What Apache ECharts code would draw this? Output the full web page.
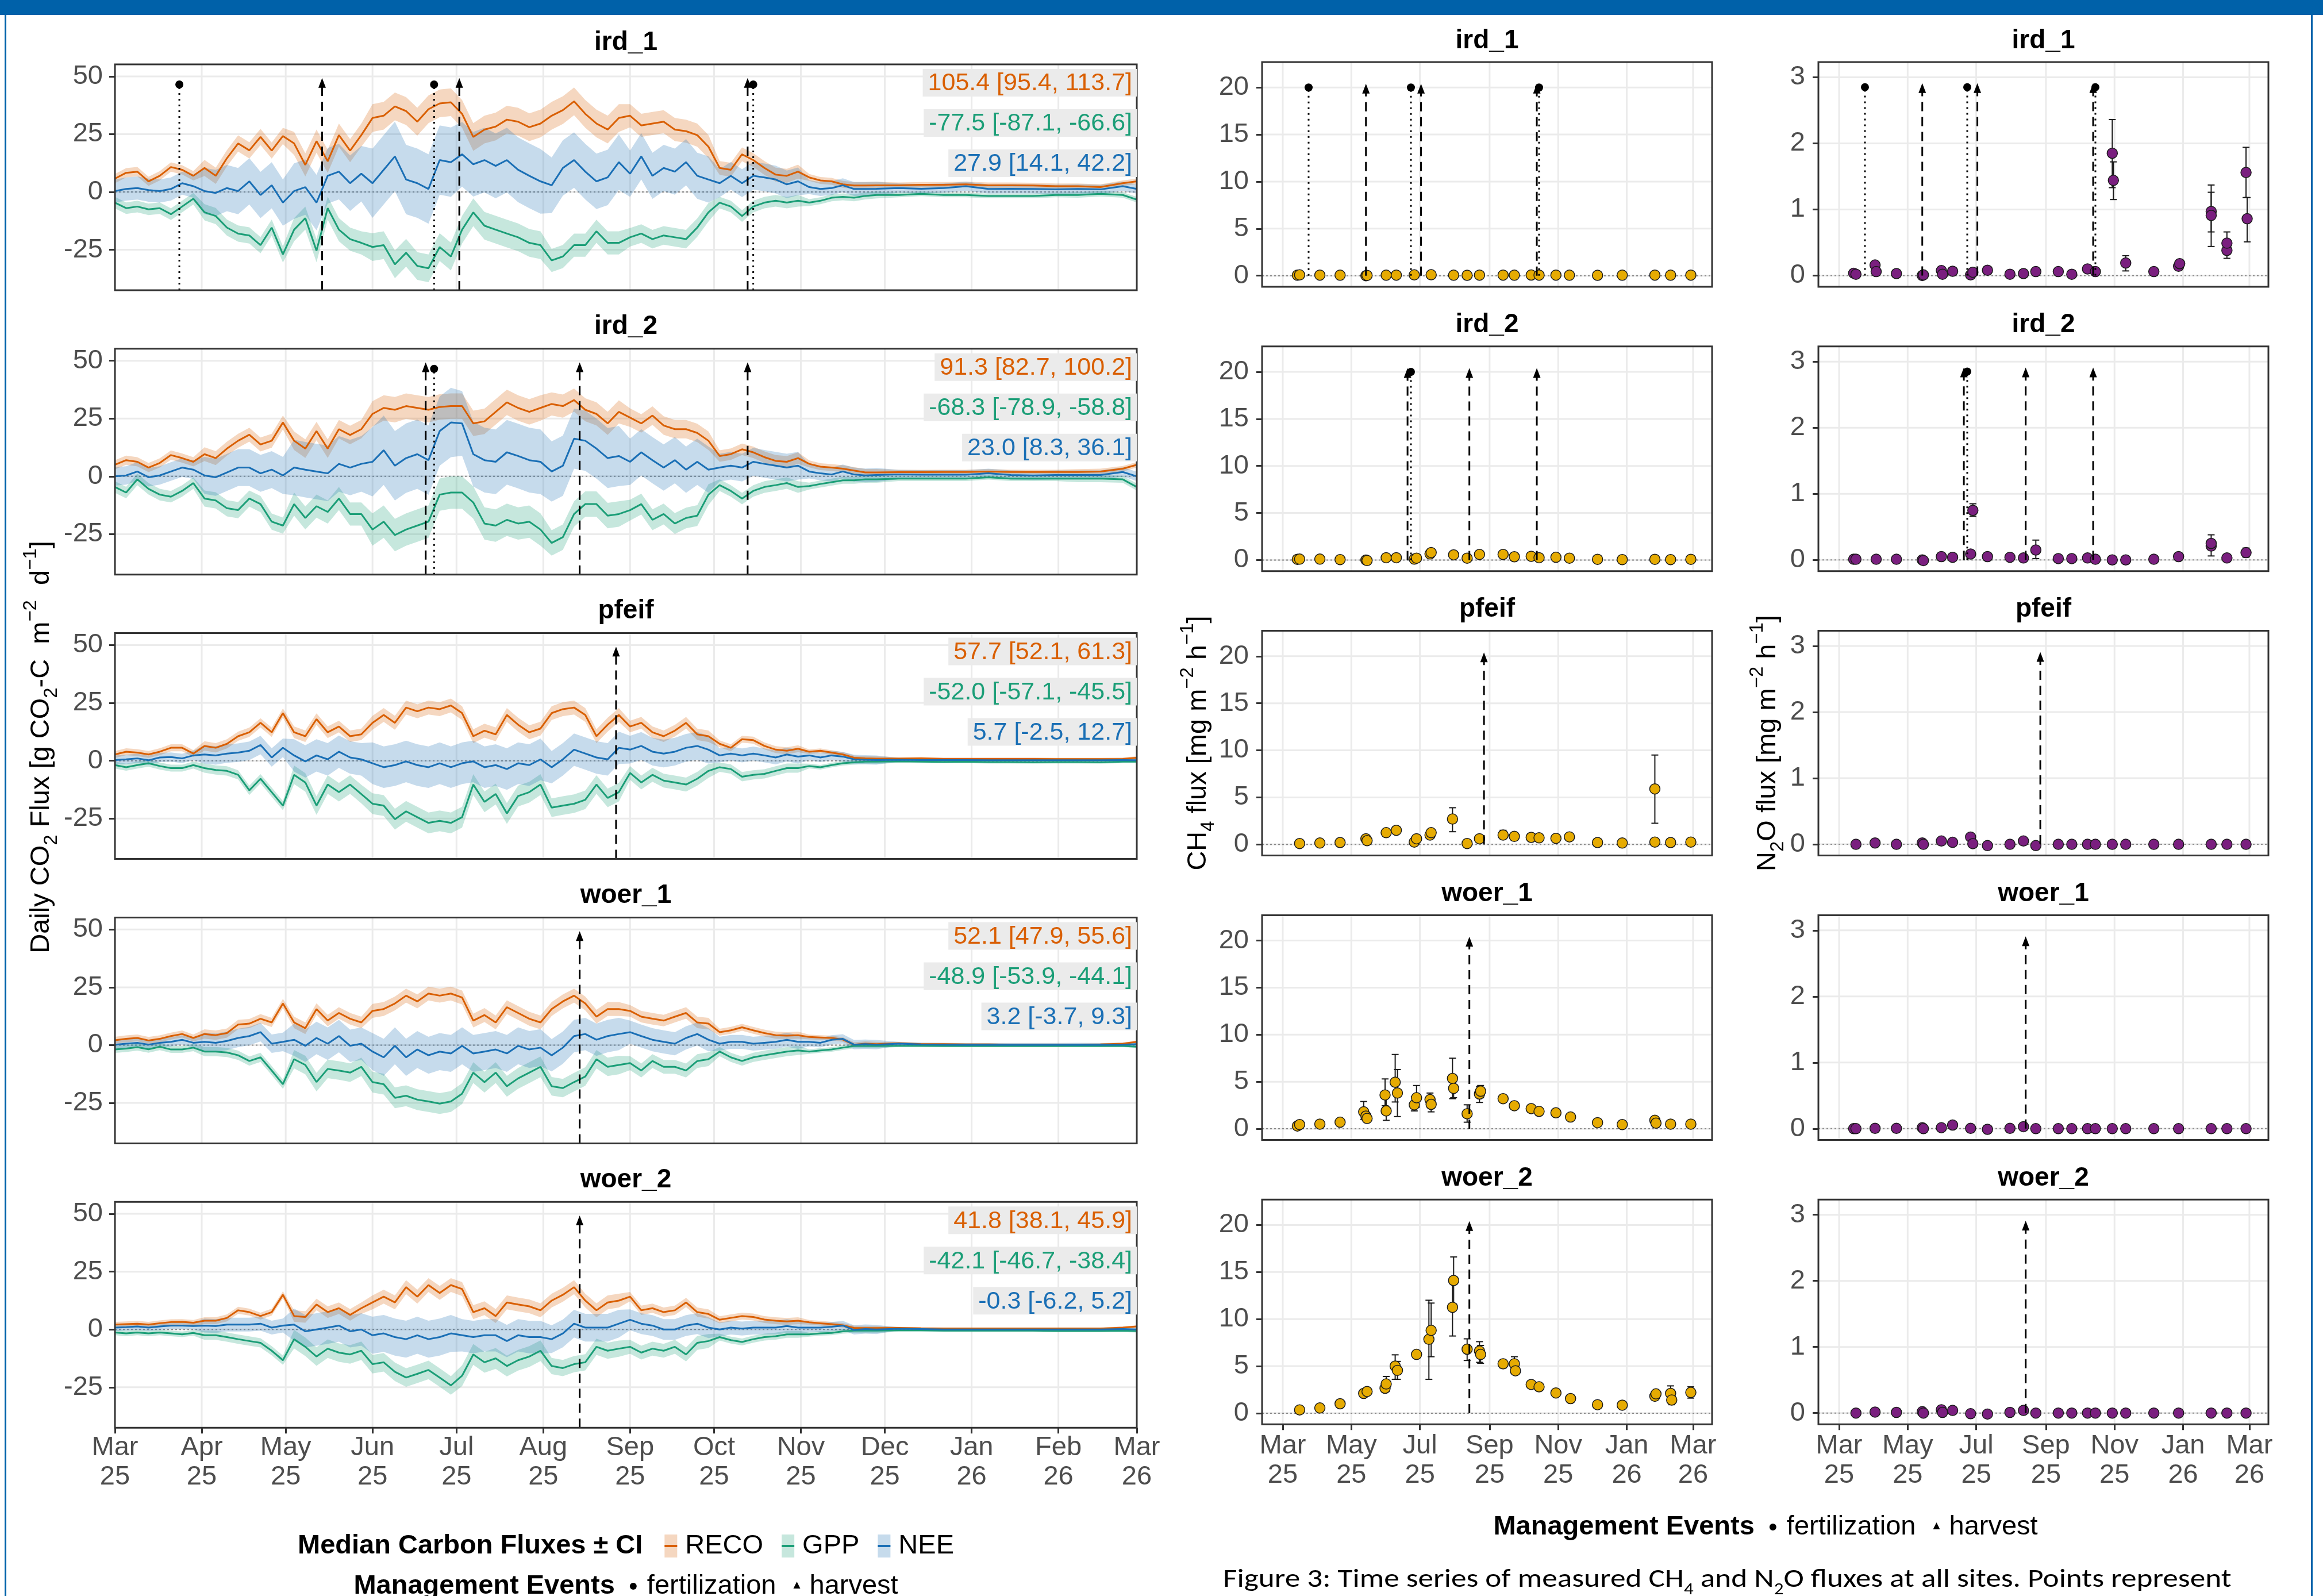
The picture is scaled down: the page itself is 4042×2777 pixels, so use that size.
<!DOCTYPE html>
<html><head><meta charset="utf-8">
<script src="https://cdn.jsdelivr.net/npm/echarts@6/dist/echarts.min.js"></script>
<style>html,body{margin:0;padding:0;background:#fff;}#c{width:4042px;height:2777px;}</style>
</head><body><div id="c"></div>
<script>
// ---------------- DATA ----------------
const siteNames = ['ird_1','ird_2','pfeif','woer_1','woer_2'];
const co2Dates = ['2025-03-01','2025-03-05','2025-03-09','2025-03-13','2025-03-17','2025-03-21','2025-03-25','2025-03-29','2025-04-02','2025-04-06','2025-04-10','2025-04-14','2025-04-18','2025-04-22','2025-04-26','2025-04-30','2025-05-04','2025-05-08','2025-05-12','2025-05-16','2025-05-20','2025-05-24','2025-05-28','2025-06-01','2025-06-05','2025-06-09','2025-06-13','2025-06-17','2025-06-21','2025-06-25','2025-06-29','2025-07-03','2025-07-07','2025-07-11','2025-07-15','2025-07-19','2025-07-23','2025-07-27','2025-07-31','2025-08-04','2025-08-08','2025-08-12','2025-08-16','2025-08-20','2025-08-24','2025-08-28','2025-09-01','2025-09-05','2025-09-09','2025-09-13','2025-09-17','2025-09-21','2025-09-25','2025-09-29','2025-10-03','2025-10-07','2025-10-11','2025-10-15','2025-10-19','2025-10-23','2025-10-27','2025-10-31','2025-11-04','2025-11-08','2025-11-12','2025-11-16','2025-11-20','2025-11-24','2025-11-28','2025-12-06','2025-12-14','2025-12-22','2025-12-30','2026-01-07','2026-01-15','2026-01-23','2026-01-31','2026-02-08','2026-02-16','2026-02-24','2026-03-01'];

const ird_1_reco = [5.8,8.3,8.8,4.6,7.0,10.8,9.6,7.0,10.4,7.0, 14.6,21.0,18.0,23.8,17.9,24.2,21.0,11.7,22.0,13.3, 24.6,17.9,24.6,32.0,33.0,37.0,35.0,30.4,35.8,38.3, 38.8,33.8,23.8,27.0,28.3,31.3,30.4,28.0,29.6,33.0, 35.4,39.2,33.8,29.6,27.0,32.0,33.0,28.8,29.6,30.4, 27.0,26.3,24.6,19.6,10.4,9.6,16.3,13.8,10.4,7.5, 7.0,8.8,6.3,5.0,4.6,3.3,2.8,2.8,2.9, 2.9,3.1,3.1,3.3,2.9,2.9,2.8,2.5,2.5,2.1,3.8,4.6];
const ird_1_gpp = [-4.6,-7.0,-6.3,-7.5,-7.0,-9.6,-6.3,-2.9,-8.8,-10.4, -15.4,-18.0,-18.8,-23.0,-15.4,-27.0,-16.3,-11.3,-25.4,-7.0, -16.3,-20.4,-22.0,-23.8,-23.0,-31.3,-26.3,-32.0,-33.0,-23.8, -27.9,-16.3,-8.8,-14.6,-16.3,-18.0,-19.6,-22.0,-23.0,-29.6, -27.9,-23.0,-23.0,-17.0,-22.0,-22.0,-19.6,-18.0,-20.4,-18.8, -19.6,-20.4,-15.4,-8.8,-4.6,-6.3,-10.4,-6.3,-4.6,-3.8, -4.6,-3.8,-4.6,-3.8,-2.5,-2.1,-2.5,-1.7,-1.3, -1.3,-0.8,-1.3,-1.3,-1.7,-1.7,-1.7,-1.3,-1.3,-0.8,-1.3,-3.3];
const ird_1_nee = [0.4,1.3,1.7,0.8,0.4,1.3,3.8,2.5,0.4,-0.4, 1.7,0.4,4.6,-1.3,2.9,-4.6,0.4,2.1,-4.6,7.0, 8.8,3.8,7.9,3.8,9.6,15.4,5.4,3.8,1.3,13.8, 12.9,16.3,12.0,13.8,11.3,13.8,9.6,7.0,4.6,2.9, 10.4,13.8,8.8,4.6,6.3,12.9,7.9,15.4,7.0,10.4, 8.8,12.9,7.0,5.4,3.8,7.0,3.8,7.0,6.3,5.4, 3.3,4.6,2.1,1.3,1.7,2.9,1.3,1.3,1.4, 1.7,1.4,1.7,2.5,1.3,1.4,1.3,1.1,1.3,1.1,2.5,1.3];

const ird_2_reco = [5.0,7.0,6.3,3.8,5.8,9.2,7.9,6.3,9.6,7.9, 12.0,15.4,18.0,13.8,15.4,23.3,15.4,12.0,19.6,12.0, 20.4,17.9,20.4,27.0,29.6,28.8,30.4,29.6,28.8,30.0, 30.4,30.4,22.9,23.8,27.9,32.0,29.6,27.9,29.6,31.3, 30.4,33.0,28.8,27.0,22.9,27.9,25.4,22.9,26.3,22.0, 20.4,20.4,18.8,15.4,8.8,9.6,11.7,10.4,8.3,6.7, 6.3,7.9,5.4,4.2,3.8,3.3,2.5,1.7,1.7, 1.8,1.8,1.9,1.9,2.1,1.9,1.9,1.9,1.9,2.1,3.3,5.0];
const ird_2_gpp = [-4.6,-7.0,-1.3,-5.4,-7.9,-8.8,-6.3,-2.9,-9.6,-10.4, -13.8,-14.6,-9.6,-12.0,-19.6,-21.3,-12.0,-18.0,-12.9,-15.4, -9.6,-16.3,-16.3,-23.0,-19.6,-25.4,-23.0,-21.3,-19.6,-7.9, -7.0,-7.0,-11.3,-20.4,-21.3,-18.8,-20.4,-19.6,-23.0,-28.8, -26.3,-16.3,-12.0,-12.0,-17.0,-16.3,-14.6,-12.0,-18.8,-16.3, -20.4,-18.0,-17.0,-7.9,-3.8,-6.3,-9.6,-6.3,-4.6,-3.8, -2.9,-4.6,-4.2,-3.3,-2.5,-1.7,-1.7,-1.3,-1.3, -1.0,-1.0,-1.0,-1.0,-0.4,-1.0,-1.0,-1.0,-1.0,-1.0,-1.3,-4.6];
const ird_2_nee = [0.0,0.4,2.1,-0.4,0.4,2.1,3.8,2.9,0.4,-0.4, 1.7,3.8,3.8,1.3,2.9,0.4,3.8,2.9,2.1,1.3, 5.4,3.8,5.4,6.3,11.3,4.6,7.9,9.6,7.0,19.6, 23.3,22.9,9.6,7.0,6.3,10.4,8.8,7.0,6.3,2.1, 4.6,16.3,15.4,12.0,7.9,8.8,6.3,10.4,7.0,3.8, 7.0,2.9,6.3,2.9,3.8,4.6,3.8,6.3,5.4,4.6, 3.8,4.6,2.1,1.3,0.8,2.1,0.8,0.4,0.6, 0.8,0.7,0.7,0.7,1.3,0.6,0.4,0.6,0.6,0.6,1.9,0.0];

const pfeif_reco = [2.7,3.9,3.5,2.7,3.9,5.6,5.6,3.1,6.4,5.6, 7.3,10.6,12.3,16.4,12.3,20.6,12.3,10.6,18.0,12.3, 14.8,10.6,11.4,16.4,19.8,16.4,23.0,21.4,23.0,22.3, 23.9,20.6,10.6,13.0,11.4,19.8,15.6,12.3,13.9,20.6, 22.3,23.0,19.8,10.6,15.6,19.8,14.8,16.4,12.3,10.6, 13.0,16.4,11.4,10.6,7.3,5.6,9.3,8.9,6.4,4.8, 4.3,5.2,3.9,4.3,3.5,2.7,1.3,1.0,0.9, 0.9,1.0,0.8,0.8,0.8,0.8,0.8,0.7,0.7,0.7,0.8,1.3];
const pfeif_gpp = [-1.9,-2.8,-1.9,-1.1,-2.3,-3.2,-3.2,-1.9,-3.2,-4.0, -4.4,-6.1,-12.8,-7.8,-13.6,-19.4,-6.1,-9.4,-19.4,-10.3, -13.6,-10.3,-14.4,-18.6,-19.4,-25.3,-21.9,-24.4,-26.9,-26.0, -26.9,-24.4,-10.3,-17.8,-14.4,-22.8,-15.3,-13.6,-10.3,-20.3, -19.4,-18.6,-16.9,-10.3,-16.1,-13.6,-5.3,-9.4,-6.1,-8.6, -9.4,-10.3,-7.8,-4.4,-2.8,-3.6,-6.9,-6.1,-5.7,-4.4, -3.2,-3.2,-2.3,-2.8,-1.9,-1.1,-0.7,-0.4,-0.4, -0.3,-0.4,-0.5,-0.4,-0.6,-0.6,-0.7,-0.6,-0.6,-0.7,-0.4,-0.4];
const pfeif_nee = [0.3,0.6,1.0,0.2,1.4,1.6,1.0,2.3,2.7,2.3, 3.1,3.5,4.3,6.8,1.4,5.6,2.3,-0.3,2.3,0.6, 3.9,1.4,0.6,-1.1,-2.8,-1.9,-0.3,-1.9,-2.8,-1.1, -2.8,-1.1,-0.3,-2.8,-1.9,-3.6,-1.1,-1.9,0.6,-2.8, 0.6,4.8,3.1,1.4,0.6,5.6,4.8,6.4,3.9,3.1, 3.9,5.6,6.4,4.8,2.3,3.1,2.3,3.1,2.3,1.4, 2.7,1.8,2.3,1.4,2.3,1.8,0.6,0.4,0.3, 0.4,0.3,0.3,0.3,0.2,0.2,0.2,0.2,0.2,0.2,0.3,0.2];

const woer_1_reco = [2.1,2.7,3.1,2.0,2.7,3.9,4.8,3.1,4.8,4.3, 5.2,8.9,9.3,11.4,9.8,18.0,9.8,7.3,15.6,10.6, 13.9,11.4,9.8,14.8,15.6,18.0,21.4,18.9,22.3,21.4, 22.3,20.6,10.6,13.0,9.8,16.4,13.9,11.4,9.8,15.6, 18.9,21.4,18.0,12.3,15.6,15.6,14.8,12.3,11.4,10.6, 12.3,13.9,9.8,9.3,5.6,6.4,7.7,6.4,5.2,4.3, 4.1,4.3,3.5,3.3,3.1,2.4,0.2,0.6,0.4, 0.8,0.4,0.4,0.3,0.3,0.2,0.2,0.2,0.2,0.3,0.6,1.4];
const woer_1_gpp = [-1.9,-1.5,-0.9,-1.8,-0.7,-1.9,-1.9,-1.1,-2.8,-2.8, -3.2,-4.4,-6.9,-5.3,-11.0,-16.9,-6.1,-8.6,-16.0,-10.3, -11.0,-11.9,-9.4,-16.0,-16.9,-22.8,-21.9,-23.6,-24.4,-25.3, -24.4,-21.0,-11.9,-16.0,-11.9,-17.8,-14.4,-11.9,-9.4,-17.8, -18.6,-16.0,-13.6,-6.1,-9.4,-8.6,-7.8,-11.0,-6.9,-9.4, -9.4,-11.0,-6.9,-6.1,-2.8,-5.3,-6.9,-5.3,-4.4,-3.6, -2.8,-2.3,-2.8,-2.3,-1.9,-1.1,-0.4,-0.4,-0.4, -0.3,-0.3,-0.4,-0.4,-0.4,-0.4,-0.4,-0.4,-0.4,-0.4,-0.4,-0.7];
const woer_1_nee = [0.2,0.6,1.0,0.2,1.0,1.4,2.3,1.0,1.4,1.0, 1.8,3.1,3.9,5.6,0.6,1.4,2.3,-0.3,3.1,0.6, 3.9,-0.3,0.6,-2.8,-5.3,-0.3,-5.3,-1.9,-4.4,-2.8, -3.6,-0.3,-3.6,-2.8,-1.9,-3.6,-0.3,-1.9,-1.1,-4.4, -1.1,3.9,4.8,2.3,3.9,4.8,5.6,3.9,2.3,1.4, 0.6,3.1,4.8,2.3,0.6,1.4,1.4,0.6,1.0,1.4, 2.3,1.4,1.4,1.0,2.3,2.7,0.2,0.4,0.2, 0.6,0.3,0.2,0.1,0.1,0.1,0.1,0.1,0.2,0.1,0.2,0.4];

const woer_2_reco = [2.1,2.3,2.5,2.1,2.7,3.2,3.3,2.9,3.8,3.8, 5.0,8.3,7.5,5.8,7.5,15.0,5.8,5.4,10.8,7.5, 9.2,6.3,9.2,11.7,14.2,11.7,18.3,14.2,19.2,15.8, 19.2,17.5,7.5,9.2,5.8,11.7,10.8,10.0,8.3,12.5, 15.0,18.3,12.5,8.3,11.7,12.5,14.2,8.3,9.2,7.5, 8.3,11.7,7.5,6.7,4.2,5.0,5.8,5.4,4.3,3.8, 3.5,3.8,3.1,2.7,2.3,1.8,0.7,0.6,0.6, 0.7,0.5,0.4,0.4,0.4,0.4,0.4,0.4,0.4,0.4,0.8,1.3];
const woer_2_gpp = [-1.3,-1.7,-1.3,-1.7,-1.3,-1.7,-2.1,-1.5,-2.5,-2.5, -3.3,-4.2,-5.0,-5.8,-9.2,-13.3,-4.2,-7.5,-11.7,-8.3, -10.0,-10.8,-9.2,-15.0,-14.2,-18.3,-20.8,-19.2,-17.5,-20.8, -24.2,-20.0,-10.8,-14.2,-12.5,-15.8,-13.3,-11.7,-9.2,-15.8, -16.7,-15.0,-14.2,-7.5,-9.2,-8.3,-7.5,-10.0,-8.3,-9.2, -7.5,-10.8,-5.8,-5.0,-3.3,-4.6,-5.4,-4.2,-3.3,-2.9, -2.1,-2.1,-2.1,-1.7,-1.5,-0.8,-0.5,-0.5,-0.5, -0.4,-0.4,-0.5,-0.5,-0.5,-0.5,-0.5,-0.6,-0.6,-0.6,-0.5,-0.7];
const woer_2_nee = [0.8,1.0,1.3,0.8,1.3,1.7,1.7,1.5,1.7,1.5, 2.1,2.1,2.1,2.5,0.8,1.7,2.1,-0.8,0.0,0.8, 1.7,-0.8,0.0,-2.5,-1.7,-3.3,-4.2,-2.5,-4.2,-3.3, -1.7,-2.5,-3.3,-2.5,-2.5,-5.0,-2.5,-3.3,-3.3,-4.2, -1.7,2.5,0.8,0.8,0.8,2.5,4.2,2.5,1.7,0.0, 0.0,1.7,2.5,0.8,0.0,0.8,0.4,0.8,0.8,0.8, 1.5,0.8,0.8,0.8,1.2,1.7,-0.2,0.2,0.0, 0.3,0.2,0.0,0.0,0.0,0.0,0.0,0.0,0.0,0.0,0.2,0.0];

// CI half-widths by month (Mar .. Feb)
const ird_1_reco_ci = [2,3.5,5,6,6,6,5,3,1.5,1.2,1.2,1.2];
const ird_1_gpp_ci  = [2.5,3.5,5,6,6,5,4,2.5,1.5,1,1,1.2];
const ird_1_nee_ci  = [5,10,12,15,14,12,10,6,3,2,2,2];
const ird_2_reco_ci = [2,3,4,5.5,5.5,5,4,2.5,1.5,1,1,1.2];
const ird_2_gpp_ci  = [2.5,3.5,5,7,7,5.5,4.5,2.5,1.5,1,1,1.5];
const ird_2_nee_ci  = [4,8,12,15,14,13,10,6,3,2,2,2];
const pfeif_reco_ci = [1.5,2,2.5,3,3,3,2.5,1.5,1,0.6,0.6,0.6];
const pfeif_gpp_ci  = [1.5,2,4,4.5,4.5,4,3,2,1,0.6,0.6,0.6];
const pfeif_nee_ci  = [2,4,7,9,9,7,6,3,2,0.8,0.8,0.8];
const woer_1_reco_ci = [1.5,2,2.5,3,3,3,2.5,1.5,1,0.5,0.5,0.5];
const woer_1_gpp_ci  = [1.5,2,4,4.5,4.5,4,3,2,1,0.5,0.5,0.5];
const woer_1_nee_ci  = [2,4,7,8,8,7,5,3,2,0.8,0.8,0.8];
const woer_2_reco_ci = [1.2,1.5,2.5,3,3,3,2,1.5,1,0.5,0.5,0.5];
const woer_2_gpp_ci  = [1.2,2,4,4,4.5,3.5,3,1.5,1,0.6,0.6,0.6];
const woer_2_nee_ci  = [1.5,3,7,8,7,6,4.5,3,2,0.6,0.6,0.6];

// annual sums [median, lower, upper] for RECO, GPP, NEE
const sums_ird_1 = [[105.4,95.4,113.7],[-77.5,-87.1,-66.6],[27.9,14.1,42.2]];
const sums_ird_2 = [[91.3,82.7,100.2],[-68.3,-78.9,-58.8],[23.0,8.3,36.1]];
const sums_pfeif = [[57.7,52.1,61.3],[-52.0,-57.1,-45.5],[5.7,-2.5,12.7]];
const sums_woer_1 = [[52.1,47.9,55.6],[-48.9,-53.9,-44.1],[3.2,-3.7,9.3]];
const sums_woer_2 = [[41.8,38.1,45.9],[-42.1,-46.7,-38.4],[-0.3,-6.2,5.2]];

// management events
const events_ird_1 = [['2025-03-24','fertilization'],['2025-05-14','harvest'],['2025-06-23','fertilization'],['2025-07-02','harvest'],['2025-10-13','harvest'],['2025-10-15','fertilization']];
const events_ird_2 = [['2025-06-20','harvest'],['2025-06-23','fertilization'],['2025-08-14','harvest'],['2025-10-13','harvest']];
const events_pfeif = [['2025-08-27','harvest']];
const events_woer_1 = [['2025-08-14','harvest']];
const events_woer_2 = [['2025-08-14','harvest']];

// CH4 / N2O chamber fluxes: [date, value, lower, upper]
const ch4_ird_1 = [['2025-03-14',0.05],['2025-03-16',0.08],['2025-04-03',0.06],['2025-04-21',0.05],['2025-05-14',0.0],['2025-05-15',0.03],['2025-06-01',0.05],['2025-06-10',0.06],['2025-06-26',0.08],['2025-07-11',0.1],['2025-07-31',0.05],['2025-08-12',0.04],['2025-08-23',0.06],['2025-09-13',0.06],['2025-09-23',0.05],['2025-10-08',0.07],['2025-10-15',0.06],['2025-10-30',0.06],['2025-11-11',0.05],['2025-12-06',0.04],['2025-12-28',0.05],['2026-01-26',0.06],['2026-02-09',0.05],['2026-02-27',0.06]];
const n2o_ird_1 = [['2025-03-14',0.035],['2025-03-16',0.02],['2025-04-02',0.16],['2025-04-03',0.06],['2025-04-21',0.03],['2025-05-14',0.0],['2025-05-15',0.01],['2025-05-31',0.075],['2025-06-01',0.02],['2025-06-10',0.065],['2025-06-26',0.01],['2025-06-28',0.05],['2025-07-11',0.08],['2025-07-31',0.02],['2025-08-12',0.03],['2025-08-23',0.06],['2025-09-12',0.06],['2025-09-24',0.02],['2025-10-08',0.1,0.06,0.14],['2025-10-15',0.06],['2025-10-30',1.85,1.33,2.36],['2025-10-31',1.44,1.15,1.72],['2025-11-11',0.19,0.07,0.3],['2025-12-06',0.06],['2025-12-28',0.14],['2025-12-29',0.18],['2026-01-26',0.97,0.66,1.37],['2026-01-26',0.91,0.44,1.26],['2026-02-09',0.38,0.26,0.49],['2026-02-09',0.49,0.38,0.66],['2026-02-26',1.56,1.18,1.94],['2026-02-27',0.86,0.51,1.18]];
const ch4_ird_2 = [['2025-03-14',0.08],['2025-03-16',0.1],['2025-04-03',0.1],['2025-04-21',0.05],['2025-05-14',0.0],['2025-05-15',-0.05],['2025-06-01',0.25],['2025-06-10',0.25],['2025-06-26',0.1],['2025-06-28',0.2],['2025-07-10',0.65],['2025-07-11',0.8],['2025-07-31',0.55],['2025-08-12',0.2],['2025-08-23',0.6],['2025-09-13',0.6],['2025-09-23',0.35],['2025-10-08',0.4],['2025-10-15',0.25],['2025-10-30',0.3],['2025-11-11',0.2],['2025-12-06',0.08],['2025-12-28',0.05],['2026-01-26',0.08],['2026-02-09',0.05],['2026-02-27',0.08]];
const n2o_ird_2 = [['2025-03-14',0.01],['2025-03-16',0.01],['2025-04-03',0.01],['2025-04-21',0.01],['2025-05-14',0.0],['2025-05-15',-0.01],['2025-05-31',0.05],['2025-06-10',0.04],['2025-06-26',0.09],['2025-06-28',0.75,0.66,0.85],['2025-07-11',0.05],['2025-07-31',0.04],['2025-08-12',0.03],['2025-08-23',0.15,0.02,0.3],['2025-09-12',0.02],['2025-09-24',0.02],['2025-10-08',0.03],['2025-10-15',0.01],['2025-10-30',0.0],['2025-11-11',0.0],['2025-12-06',0.01],['2025-12-28',0.05],['2026-01-26',0.21,0.06,0.38],['2026-01-26',0.25],['2026-02-09',0.03],['2026-02-26',0.11,0.04,0.18]];
const ch4_pfeif = [['2025-03-16',0.1],['2025-04-03',0.15],['2025-04-21',0.2],['2025-05-14',0.6],['2025-05-15',0.4],['2025-06-01',1.25],['2025-06-10',1.5],['2025-06-26',0.25],['2025-06-28',0.6],['2025-07-10',1.0],['2025-07-11',1.25,0.9,1.6],['2025-07-30',2.7,1.35,3.9],['2025-08-12',0.1],['2025-08-23',0.6],['2025-09-13',1.0,0.6,1.5],['2025-09-23',0.85],['2025-10-08',0.75],['2025-10-15',0.7],['2025-10-30',0.65],['2025-11-11',0.8],['2025-12-06',0.2],['2025-12-28',0.15],['2026-01-26',5.9,2.25,9.5],['2026-01-26',0.25],['2026-02-09',0.2],['2026-02-27',0.25]];
const n2o_pfeif = [['2025-03-16',0.0],['2025-04-02',0.02],['2025-04-21',0.0],['2025-05-14',0.02],['2025-05-15',0.0],['2025-05-31',0.05],['2025-06-10',0.03],['2025-06-26',0.11],['2025-06-28',0.01],['2025-07-11',-0.02],['2025-07-31',0.0],['2025-08-12',0.05],['2025-08-23',-0.02],['2025-09-12',0.0],['2025-09-24',0.0],['2025-10-08',0.0],['2025-10-15',0.0],['2025-10-30',0.0],['2025-11-11',0.0],['2025-12-06',0.0],['2025-12-28',0.0],['2026-01-26',0.0],['2026-02-09',0.0],['2026-02-26',0.0]];
const ch4_woer_1 = [['2025-03-14',0.3],['2025-03-16',0.45],['2025-04-03',0.5],['2025-04-21',0.7],['2025-05-12',1.8,1.0,2.9],['2025-05-14',1.35],['2025-05-15',1.1],['2025-05-31',3.6,2.45,5.3],['2025-06-01',1.9,0.9,3.6],['2025-06-09',4.95,2.85,7.9],['2025-06-11',3.8,1.3,6.3],['2025-06-26',2.55,1.9,3.4],['2025-06-28',3.3,2.3,4.6],['2025-07-10',3.1,2.3,3.8],['2025-07-11',2.6,1.8,3.3],['2025-07-30',5.35,3.2,7.5],['2025-07-31',4.3,3.3,5.3],['2025-08-12',1.6,0.7,2.55],['2025-08-23',3.7,2.8,4.5],['2025-08-24',4.0,3.3,4.6],['2025-09-13',3.2],['2025-09-23',2.45],['2025-10-08',2.15],['2025-10-15',1.85],['2025-10-30',1.7],['2025-11-12',1.25],['2025-12-06',0.65],['2025-12-28',0.45],['2026-01-26',0.9],['2026-01-27',0.6],['2026-02-09',0.5],['2026-02-27',0.5]];
const n2o_woer_1 = [['2025-03-14',0.0],['2025-03-16',0.0],['2025-04-02',0.005],['2025-04-21',0.005],['2025-05-14',0.015],['2025-05-15',0.0],['2025-05-31',0.015],['2025-06-10',0.055],['2025-06-26',0.005],['2025-07-11',-0.01],['2025-07-31',0.005],['2025-08-12',0.03],['2025-08-23',0.0],['2025-09-12',0.0],['2025-09-24',0.0],['2025-10-08',0.0],['2025-10-15',0.0],['2025-10-30',0.0],['2025-11-11',0.0],['2025-12-06',0.0],['2025-12-28',0.0],['2026-01-26',0.0],['2026-02-09',0.0],['2026-02-26',0.0]];
const ch4_woer_2 = [['2025-03-16',0.35],['2025-04-03',0.55],['2025-04-21',1.0],['2025-05-12',2.1],['2025-05-15',2.3],['2025-05-31',2.65],['2025-06-01',3.1,2.3,3.9],['2025-06-09',5.0,3.6,6.2],['2025-06-11',4.55,3.6,5.5],['2025-06-28',6.25],['2025-07-09',7.85,3.6,12.0],['2025-07-11',8.8,6.0,11.7],['2025-07-30',11.25,8.2,14.3],['2025-07-31',14.1,11.6,16.6],['2025-08-12',6.8,5.6,7.9],['2025-08-23',6.6,5.4,7.6],['2025-08-24',6.25,5.3,7.2],['2025-09-13',5.25,4.8,5.6],['2025-09-23',5.25,4.6,6.0],['2025-09-24',4.5],['2025-10-08',3.05],['2025-10-15',2.8],['2025-10-30',2.15],['2025-11-12',1.55],['2025-12-06',0.9],['2025-12-28',0.85],['2026-01-26',1.8],['2026-01-27',2.05],['2026-02-09',2.1,1.4,2.9],['2026-02-10',1.4,0.9,1.9],['2026-02-27',2.2,1.6,2.8]];
const n2o_woer_2 = [['2025-03-16',0.0],['2025-04-02',0.015],['2025-04-21',0.01],['2025-05-14',0.02],['2025-05-15',0.0],['2025-05-31',0.05],['2025-06-01',0.01],['2025-06-10',0.04],['2025-06-26',-0.01],['2025-07-11',-0.015],['2025-07-31',0.01],['2025-08-12',0.04],['2025-08-23',0.0],['2025-09-12',0.0],['2025-09-24',0.0],['2025-10-08',0.0],['2025-10-15',0.0],['2025-10-30',0.0],['2025-11-11',0.0],['2025-12-06',0.0],['2025-12-28',0.0],['2026-01-26',0.0],['2026-02-09',0.0],['2026-02-26',0.0]];

// axis ticks
const co2TickDates = ['2025-03-01','2025-04-01','2025-05-01','2025-06-01','2025-07-01','2025-08-01','2025-09-01','2025-10-01','2025-11-01','2025-12-01','2026-01-01','2026-02-01','2026-03-01'];
const co2TickLabels = ['Mar\n25','Apr\n25','May\n25','Jun\n25','Jul\n25','Aug\n25','Sep\n25','Oct\n25','Nov\n25','Dec\n25','Jan\n26','Feb\n26','Mar\n26'];
const ghgTickDates = ['2025-03-01','2025-05-01','2025-07-01','2025-09-01','2025-11-01','2026-01-01','2026-03-01'];
const ghgTickLabels = ['Mar\n25','May\n25','Jul\n25','Sep\n25','Nov\n25','Jan\n26','Mar\n26'];
const co2YTicks = [-25,0,25,50];
const ch4YTicks = [0,5,10,15,20];
const n2oYTicks = [0,1,2,3];

// ---------------- BUILD ----------------
const FONT = '"Liberation Sans", Arial, Helvetica, sans-serif';
const FS = 47;           // base text size
const COL = {reco:'#D95F02', gpp:'#1B9E77', nee:'#1A6FB5'};
const BAND = {reco:'rgba(217,95,2,0.25)', gpp:'rgba(27,158,119,0.25)', nee:'rgba(26,111,181,0.25)'};
const CH4COL = '#E6AB02', N2OCOL = '#7A1F7F';
const D0 = Date.UTC(2025,2,1);
const toDay = s => { const p = s.split('-').map(Number); return (Date.UTC(p[0],p[1]-1,p[2]) - D0) / 86400000; };
const monthIdx = s => { const p = s.split('-').map(Number); return Math.min(11, (p[0]-2025)*12 + p[1] - 3); };

const SITE = {
  ird_1: {reco: ird_1_reco, gpp: ird_1_gpp, nee: ird_1_nee, ci:{reco: ird_1_reco_ci, gpp: ird_1_gpp_ci, nee: ird_1_nee_ci}, sums: sums_ird_1, ev: events_ird_1, ch4: ch4_ird_1, n2o: n2o_ird_1},
  ird_2: {reco: ird_2_reco, gpp: ird_2_gpp, nee: ird_2_nee, ci:{reco: ird_2_reco_ci, gpp: ird_2_gpp_ci, nee: ird_2_nee_ci}, sums: sums_ird_2, ev: events_ird_2, ch4: ch4_ird_2, n2o: n2o_ird_2},
  pfeif: {reco: pfeif_reco, gpp: pfeif_gpp, nee: pfeif_nee, ci:{reco: pfeif_reco_ci, gpp: pfeif_gpp_ci, nee: pfeif_nee_ci}, sums: sums_pfeif, ev: events_pfeif, ch4: ch4_pfeif, n2o: n2o_pfeif},
  woer_1: {reco: woer_1_reco, gpp: woer_1_gpp, nee: woer_1_nee, ci:{reco: woer_1_reco_ci, gpp: woer_1_gpp_ci, nee: woer_1_nee_ci}, sums: sums_woer_1, ev: events_woer_1, ch4: ch4_woer_1, n2o: n2o_woer_1},
  woer_2: {reco: woer_2_reco, gpp: woer_2_gpp, nee: woer_2_nee, ci:{reco: woer_2_reco_ci, gpp: woer_2_gpp_ci, nee: woer_2_nee_ci}, sums: sums_woer_2, ev: events_woer_2, ch4: ch4_woer_2, n2o: n2o_woer_2}
};

const grids = [], xAxes = [], yAxes = [], series = [], titles = [], gfx = [];
const PITCH = 494.8;
const co2TickDays = co2TickDates.map(toDay), ghgTickDays = ghgTickDates.map(toDay);
const lblMap = {};
co2TickDays.forEach((d,i)=>lblMap[d]=co2TickLabels[i]);
ghgTickDays.forEach((d,i)=>lblMap[d]=ghgTickLabels[i]);

function addGrid(o) {
  const g = grids.length;
  grids.push({left:o.left, top:o.top, width:o.width, height:o.height, show:false, containLabel:false});
  xAxes.push({type:'value', gridIndex:g, min:o.xr[0], max:o.xr[1],
    axisLine:{show:false, onZero:false}, splitLine:{show:false},
    axisTick:{show:!!o.xLab, customValues:o.xTicks, length:10, lineStyle:{color:'#333333', width:3}},
    axisLabel:{show:!!o.xLab, customValues:o.xTicks, interval:0, showMinLabel:true, showMaxLabel:true, hideOverlap:false,
      formatter: v => lblMap[v] || '', fontSize:FS, lineHeight:51, color:'#4D4D4D', margin:o.xMargin, fontFamily:FONT}});
  yAxes.push({type:'value', gridIndex:g, min:o.yr[0], max:o.yr[1],
    axisLine:{show:false, onZero:false}, splitLine:{show:false},
    axisTick:{show:true, customValues:o.yTicks, length:10, lineStyle:{color:'#333333', width:3}},
    axisLabel:{show:true, customValues:o.yTicks, interval:0, showMinLabel:true, showMaxLabel:true, fontSize:FS, color:'#4D4D4D', margin:o.yMargin, fontFamily:FONT}});
  const gl = o.xTicks.filter(v => v > o.xr[0] && v < o.xr[1]).map(v => [v, 0])
      .concat(o.yTicks.map(v => [v, 1])).concat([[0, 2]]);
  series.push({type:'custom', xAxisIndex:g, yAxisIndex:g, silent:true, z:1, data:gl,
    renderItem:(p, api) => {
      const v = api.value(0), t = api.value(1);
      let a, b;
      if (t === 0) { a = api.coord([v, o.yr[0]]); b = api.coord([v, o.yr[1]]); }
      else { a = api.coord([o.xr[0], v]); b = api.coord([o.xr[1], v]); }
      const st = t === 2 ? {stroke:'#8A8A8A', lineWidth:2, lineDash:[3,4]} : {stroke:'#EBEBEB', lineWidth:3};
      return {type:'line', shape:{x1:a[0], y1:a[1], x2:b[0], y2:b[1]}, style:st};
    }});
  series.push({type:'custom', xAxisIndex:g, yAxisIndex:g, silent:true, z:20, data:[[o.xr[0], o.yr[0]]],
    renderItem:(p, api) => {
      const a = api.coord([o.xr[0], o.yr[1]]), b = api.coord([o.xr[1], o.yr[0]]);
      return {type:'rect', shape:{x:a[0], y:a[1], width:b[0]-a[0], height:b[1]-a[1]}, style:{fill:'none', stroke:'#333333', lineWidth:3}};
    }});
  return g;
}

function addEvents(g, evs, yBottom, fertTop, harvTip) {
  series.push({type:'custom', xAxisIndex:g, yAxisIndex:g, silent:true, z:15,
    data: evs.map(e => [toDay(e[0]), e[1] === 'harvest' ? 1 : 0]),
    renderItem:(p, api) => {
      const x = api.value(0), h = api.value(1);
      const base = api.coord([x, yBottom]);
      if (h) {
        const tip = api.coord([x, harvTip]);
        return {type:'group', children:[
          {type:'line', shape:{x1:base[0], y1:base[1], x2:tip[0], y2:tip[1]+10}, style:{stroke:'#000', lineWidth:3, lineDash:[16,10]}},
          {type:'polygon', shape:{points:[[tip[0], tip[1]], [tip[0]-6.5, tip[1]+17], [tip[0]+6.5, tip[1]+17]]}, style:{fill:'#000'}}
        ]};
      }
      const top = api.coord([x, fertTop]);
      return {type:'group', children:[
        {type:'line', shape:{x1:base[0], y1:base[1], x2:top[0], y2:top[1]}, style:{stroke:'#000', lineWidth:3, lineDash:[3,7]}},
        {type:'circle', shape:{cx:top[0], cy:top[1], r:7}, style:{fill:'#000'}}
      ]};
    }});
}

function addTitle(text, x, y) {
  gfx.push({type:'text', x:x, y:y, silent:true, style:{text:text, fontSize:46, fontWeight:'bold', fontFamily:FONT, fill:'#000', align:'center', verticalAlign:'middle'}});
}

const coDays = co2Dates.map(toDay), coMonth = co2Dates.map(monthIdx);
const CO2YR = [-42.5, 55.2], CO2XR = [0, 365];
const GHGXR = [-18.4, 381.9], CH4YR = [-1.18, 22.7], N2OYR = [-0.17, 3.23];
const fmt = v => `${v[0].toFixed(1)} [${v[1].toFixed(1)}, ${v[2].toFixed(1)}]`;

siteNames.forEach((s, i) => {
  const S = SITE[s];
  const last = i === siteNames.length - 1;
  const top = 112 + PITCH * i;
  const g = addGrid({left:200, top:top, width:1778, height:393, xr:CO2XR, yr:CO2YR, xTicks:co2TickDays, xLab:last, yTicks:co2YTicks, xMargin:9, yMargin:21});
  ['reco','gpp','nee'].forEach(k => {
    const med = S[k], hw = S.ci[k], col = BAND[k];
    series.push({type:'custom', xAxisIndex:g, yAxisIndex:g, silent:true, z:2, data:[[coDays[0], med[0]]],
      renderItem:(p, api) => {
        const pts = [];
        for (let j = 0; j < coDays.length; j++) pts.push(api.coord([coDays[j], med[j] + hw[coMonth[j]]]));
        for (let j = coDays.length - 1; j >= 0; j--) pts.push(api.coord([coDays[j], med[j] - hw[coMonth[j]]]));
        return {type:'polygon', shape:{points:pts}, style:{fill:col}};
      }});
  });
  ['reco','gpp','nee'].forEach(k => {
    series.push({type:'line', xAxisIndex:g, yAxisIndex:g, silent:true, z:5, symbol:'none', showSymbol:false,
      data: coDays.map((d, j) => [d, S[k][j]]), lineStyle:{color:COL[k], width:3}});
  });
  addEvents(g, S.ev, CO2YR[0], 46.5, 49.3);
  addTitle(s, 1089, 74 + PITCH * i);
  ['reco','gpp','nee'].forEach((k, m) => {
    titles.push({text: fmt(S.sums[m]), right: 4042 - 1978, top: top + 8 + 70 * m, padding:[4,8,1,9], backgroundColor:'#EBEBEB', z:30,
      textStyle:{color:COL[k], fontSize:43, fontWeight:'normal', fontFamily:FONT, lineHeight:43}});
  });

  const gtop = 108 + PITCH * i;
  [['ch4', 2196, CH4YR, ch4YTicks, CH4COL, 20, 20.4], ['n2o', 3164, N2OYR, n2oYTicks, N2OCOL, 2.85, 2.91]].forEach(cfg => {
    const [gas, left, yr, yt, col, fTop, hTip] = cfg;
    const gg = addGrid({left:left, top:gtop, width:783, height:391, xr:GHGXR, yr:yr, xTicks:ghgTickDays, xLab:last, yTicks:yt, xMargin:12, yMargin:23});
    const pts = S[gas];
    const eb = pts.filter(r => r.length > 2).map(r => [toDay(r[0]), r[2], r[3]]);
    series.push({type:'custom', xAxisIndex:gg, yAxisIndex:gg, silent:true, z:8, data:eb, encode:{x:0, y:[1,2]},
      renderItem:(p, api) => {
        const x = api.value(0);
        const a = api.coord([x, api.value(1)]), b = api.coord([x, api.value(2)]);
        const w = 6, st = {stroke:'#1A1A1A', lineWidth:2};
        return {type:'group', children:[
          {type:'line', shape:{x1:a[0], y1:a[1], x2:b[0], y2:b[1]}, style:st},
          {type:'line', shape:{x1:a[0]-w, y1:a[1], x2:a[0]+w, y2:a[1]}, style:st},
          {type:'line', shape:{x1:b[0]-w, y1:b[1], x2:b[0]+w, y2:b[1]}, style:st}
        ]};
      }});
    series.push({type:'scatter', xAxisIndex:gg, yAxisIndex:gg, silent:true, z:10, symbol:'circle', symbolSize:18,
      data: pts.map(r => [toDay(r[0]), r[1]]),
      itemStyle:{color:col, borderColor:'#1A1A1A', borderWidth:1.5, opacity:1}});
    addEvents(gg, S.ev, 0, fTop, hTip);
    addTitle(s, left + 391.5, 71 + PITCH * i);
  });
});

// ---- axis titles ----
const R = (fs) => ({
  sub:{fontSize:fs*0.7, fontFamily:FONT, fill:'#000', verticalAlign:'bottom', lineHeight:fs*1.45},
  sup:{fontSize:fs*0.7, fontFamily:FONT, fill:'#000', verticalAlign:'top', lineHeight:fs*1.45},
  n:{fontSize:fs, fontFamily:FONT, fill:'#000', lineHeight:fs*1.45}
});
gfx.push({type:'text', x:72, y:1300, rotation:Math.PI/2, silent:true,
  style:{text:'{n|Daily CO}{sub|2}{n| Flux [g CO}{sub|2}{n|-C  m}{sup|−2}{n|  d}{sup|−1}{n|]}', rich:R(FS), fontSize:FS, fontFamily:FONT, fill:'#000', align:'center', verticalAlign:'middle'}});
gfx.push({type:'text', x:2085, y:1293, rotation:Math.PI/2, silent:true,
  style:{text:'{n|CH}{sub|4}{n| flux [mg m}{sup|−2}{n| h}{sup|−1}{n|]}', rich:R(FS), fontSize:FS, fontFamily:FONT, fill:'#000', align:'center', verticalAlign:'middle'}});
gfx.push({type:'text', x:3076, y:1293, rotation:Math.PI/2, silent:true,
  style:{text:'{n|N}{sub|2}{n|O flux [mg m}{sup|−2}{n| h}{sup|−1}{n|]}', rich:R(FS), fontSize:FS, fontFamily:FONT, fill:'#000', align:'center', verticalAlign:'middle'}});

// ---- legends ----
const mctx = document.createElement('canvas').getContext('2d');
const tw = (t, bold) => { mctx.font = (bold ? 'bold ' : '') + FS + 'px ' + FONT; return mctx.measureText(t).width; };
function legendRow(items, cx, cy) {
  const total = items.reduce((a, it) => a + it.w + (it.gap || 0), 0);
  let x = cx - total / 2;
  items.forEach(it => { it.draw(x, cy); x += it.w + (it.gap || 0); });
}
const txtItem = (t, bold, gap) => ({w: tw(t, bold), gap: gap, draw:(x, y) => gfx.push({type:'text', x:x, y:y, silent:true,
  style:{text:t, fontSize:FS, fontWeight: bold ? 'bold' : 'normal', fontFamily:FONT, fill:'#000', align:'left', verticalAlign:'middle'}})});
const keyItem = (k, gap) => ({w:22, gap:gap, draw:(x, y) => {
  gfx.push({type:'rect', silent:true, shape:{x:x, y:y-20, width:22, height:40}, style:{fill:BAND[k]}});
  gfx.push({type:'line', silent:true, shape:{x1:x, y1:y, x2:x+22, y2:y}, style:{stroke:COL[k], lineWidth:4}});
}});
const dotItem = (gap) => ({w:12, gap:gap, draw:(x, y) => gfx.push({type:'circle', silent:true, shape:{cx:x+6, cy:y, r:6}, style:{fill:'#000'}})});
const triItem = (gap) => ({w:12, gap:gap, draw:(x, y) => gfx.push({type:'polygon', silent:true, shape:{points:[[x+6, y-8], [x, y+4], [x+12, y+4]]}, style:{fill:'#000'}})});

legendRow([txtItem('Median Carbon Fluxes ± CI', true, 38), keyItem('reco', 14), txtItem('RECO', false, 32), keyItem('gpp', 14), txtItem('GPP', false, 32), keyItem('nee', 14), txtItem('NEE', false, 0)], 1089, 2690);
legendRow([txtItem('Management Events', true, 26), dotItem(18), txtItem('fertilization', false, 30), triItem(16), txtItem('harvest', false, 0)], 1089, 2760);
legendRow([txtItem('Management Events', true, 26), dotItem(18), txtItem('fertilization', false, 30), triItem(16), txtItem('harvest', false, 0)], 3072, 2657);

// ---- caption ----
const CAPF = '"Carlito", "Lato", "Liberation Sans", sans-serif';
const capFs = 45;
mctx.font = capFs + 'px ' + CAPF;
const capW = mctx.measureText('Figure 3: Time series of measured CH4 and N2O fluxes at all sites. Points represent').width;
gfx.push({type:'text', x:2128, y:2750, scaleX: 1775 / capW, silent:true, style:{
  text:'{n|Figure 3: Time series of measured CH}{s|4}{n| and N}{s|2}{n|O fluxes at all sites. Points represent}',
  rich:{n:{fontSize:capFs, fontFamily:CAPF, fill:'#000', lineHeight:capFs*1.4}, s:{fontSize:capFs*0.62, fontFamily:CAPF, fill:'#000', verticalAlign:'bottom', lineHeight:capFs*1.3}},
  align:'left', verticalAlign:'middle'}});

// ---- page frame ----
gfx.push({type:'rect', silent:true, shape:{x:0, y:0, width:4042, height:26}, style:{fill:'#0061A9'}});
gfx.push({type:'rect', silent:true, shape:{x:8, y:0, width:3, height:2777}, style:{fill:'#0061A9'}});
gfx.push({type:'rect', silent:true, shape:{x:4021, y:0, width:3, height:2777}, style:{fill:'#0061A9'}});

const chart = echarts.init(document.getElementById('c'), null, {renderer:'canvas', width:4042, height:2777});
chart.setOption({
  animation:false, backgroundColor:'#ffffff', textStyle:{fontFamily:FONT},
  title:titles, grid:grids, xAxis:xAxes, yAxis:yAxes, series:series,
  graphic:{elements:gfx}
});
</script></body></html>
